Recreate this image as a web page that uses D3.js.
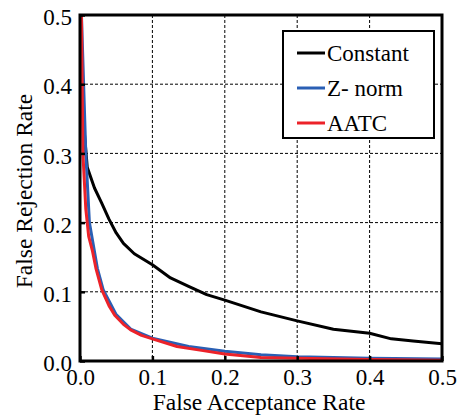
<!DOCTYPE html>
<html>
<head>
<meta charset="utf-8">
<script src="https://cdn.jsdelivr.net/npm/d3@7"></script>
<style>
  html, body { margin: 0; padding: 0; background: #fff; }
  svg text { font-family: "Liberation Serif", "Times New Roman", Tinos, serif; }
</style>
</head>
<body>
<svg id="chart" width="464" height="419"></svg>
<script>
// DET curves: false rejection rate vs. false acceptance rate
const seriesNames = ["Constant", "Z- norm", "AATC"];
const seriesColors = ["#000000", "#2a5fb4", "#ec2229"];

const constantFAR = [0.001, 0.003, 0.006, 0.01, 0.02, 0.03, 0.04, 0.05, 0.06, 0.075, 0.1, 0.125, 0.15, 0.175, 0.2, 0.25, 0.3, 0.35, 0.4, 0.43, 0.46, 0.5];
const constantFRR = [0.5, 0.4, 0.33, 0.28, 0.25, 0.228, 0.205, 0.185, 0.17, 0.155, 0.139, 0.12, 0.108, 0.096, 0.088, 0.071, 0.058, 0.046, 0.04, 0.032, 0.029, 0.025];

const znormFAR = [0.002, 0.005, 0.008, 0.013, 0.024, 0.032, 0.05, 0.07, 0.1, 0.15, 0.2, 0.25, 0.3, 0.4, 0.5];
const znormFRR = [0.5, 0.4, 0.3, 0.2, 0.134, 0.103, 0.067, 0.046, 0.033, 0.021, 0.014, 0.009, 0.006, 0.004, 0.003];

const aatcFAR = [0.002, 0.003, 0.004, 0.008, 0.012, 0.017, 0.022, 0.03, 0.04, 0.048, 0.06, 0.07, 0.085, 0.1, 0.134, 0.17, 0.2, 0.25, 0.3, 0.4, 0.5];
const aatcFRR = [0.5, 0.4, 0.3, 0.22, 0.18, 0.16, 0.134, 0.103, 0.08, 0.066, 0.053, 0.045, 0.037, 0.032, 0.021, 0.015, 0.01, 0.005, 0.004, 0.002, 0.001];

const tickValues = [0.0, 0.1, 0.2, 0.3, 0.4, 0.5];
const tickLabels = ["0.0", "0.1", "0.2", "0.3", "0.4", "0.5"];
const gridValues = [0.1, 0.2, 0.3, 0.4];

const xTitle = "False Acceptance Rate";
const yTitle = "False Rejection Rate";

const FONT = '"Liberation Serif", "Times New Roman", Tinos, serif';

const svg = d3.select("#chart");
const margin = { left: 80, top: 15, right: 22, bottom: 58 };
const W = 464 - margin.left - margin.right;
const H = 419 - margin.top - margin.bottom;

const x = d3.scaleLinear().domain([0, 0.5]).range([0, W]);
const y = d3.scaleLinear().domain([0, 0.5]).range([H, 0]);

const g = svg.append("g").attr("transform", `translate(${margin.left},${margin.top})`);

// dashed grid
g.append("g").selectAll("line").data(gridValues).join("line")
  .attr("x1", d => x(d)).attr("x2", d => x(d)).attr("y1", 0).attr("y2", H)
  .attr("stroke", "#000").attr("stroke-width", 1).attr("stroke-dasharray", "3,2");
g.append("g").selectAll("line").data(gridValues).join("line")
  .attr("y1", d => y(d)).attr("y2", d => y(d)).attr("x1", 0).attr("x2", W)
  .attr("stroke", "#000").attr("stroke-width", 1).attr("stroke-dasharray", "3,2");

// curves
g.append("clipPath").attr("id", "plotclip").append("rect")
  .attr("x", 0).attr("y", 0).attr("width", W).attr("height", H);
const line = d3.line().x(d => x(d[0])).y(d => y(d[1])).curve(d3.curveLinear);
const series = [
  { name: seriesNames[0], color: seriesColors[0], pts: d3.zip(constantFAR, constantFRR) },
  { name: seriesNames[1], color: seriesColors[1], pts: d3.zip(znormFAR, znormFRR) },
  { name: seriesNames[2], color: seriesColors[2], pts: d3.zip(aatcFAR, aatcFRR) }
];
g.append("g").attr("clip-path", "url(#plotclip)").selectAll("path").data(series).join("path")
  .attr("d", d => line(d.pts))
  .attr("fill", "none").attr("stroke", d => d.color).attr("stroke-width", 3)
  .attr("stroke-linejoin", "round");

// axes with inward ticks
const xAxis = d3.axisBottom(x).tickValues(tickValues).tickFormat((d, i) => tickLabels[i]).tickSizeInner(-5).tickSizeOuter(0).tickPadding(8);
const yAxis = d3.axisLeft(y).tickValues(tickValues).tickFormat((d, i) => tickLabels[i]).tickSizeInner(-5).tickSizeOuter(0).tickPadding(8);

const gx = g.append("g").attr("transform", `translate(0,${H})`).call(xAxis);
const gy = g.append("g").call(yAxis);
[gx, gy].forEach(a => {
  a.attr("font-family", FONT).attr("font-size", 23);
  a.select(".domain").remove();
  a.selectAll(".tick line").attr("stroke", "#000").attr("stroke-width", 2.5);
  a.selectAll(".tick text").attr("fill", "#000");
});
gy.selectAll(".tick text").attr("dy", "0.42em");

// frame
g.append("rect").attr("x", 0).attr("y", 0).attr("width", W).attr("height", H)
  .attr("fill", "none").attr("stroke", "#000").attr("stroke-width", 3);

// axis titles
svg.append("text").attr("x", 259).attr("y", 410)
  .attr("font-family", FONT).attr("font-size", 23.5)
  .attr("text-anchor", "middle").text(xTitle);
svg.append("text").attr("transform", "translate(32,191) rotate(-90)")
  .attr("font-family", FONT).attr("font-size", 23.5)
  .attr("text-anchor", "middle").text(yTitle);

// legend
const lg = svg.append("g").attr("transform", "translate(283,31)");
lg.append("rect").attr("width", 151).attr("height", 107).attr("fill", "#fff")
  .attr("stroke", "#000").attr("stroke-width", 2);
series.forEach((s, i) => {
  const cy = 22 + i * 35;
  lg.append("line").attr("x1", 14).attr("x2", 42).attr("y1", cy).attr("y2", cy)
    .attr("stroke", s.color).attr("stroke-width", 3);
  lg.append("text").attr("x", 44).attr("y", cy + 8)
    .attr("font-family", FONT).attr("font-size", 23).text(s.name);
});
</script>
</body>
</html>
